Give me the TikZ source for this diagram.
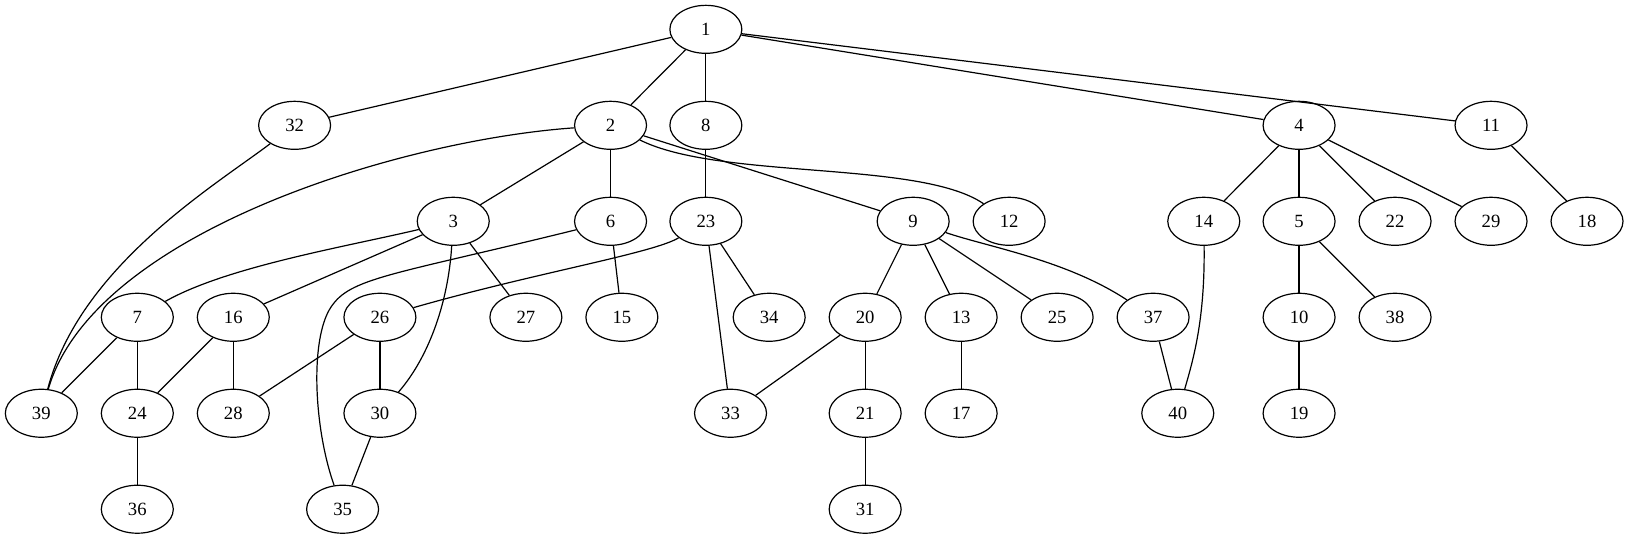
\documentclass[tikz,border=0pt]{standalone}
\usepackage{fontspec}
\setmainfont{Liberation Serif}
\usepackage{tikz}
\usetikzlibrary{shapes.geometric}

\begin{document}
\begin{tikzpicture}[x=1pt,y=-1pt,
		vertex/.style={draw,ellipse,line width=0.9pt,minimum width=54pt,minimum height=36pt,inner sep=0pt,font=\fontsize{14}{16}\selectfont},
		every path/.style={line width=0.9pt}]
		\useasboundingbox (0,0) rectangle (1222,404);
		% nodes, row by row
		\foreach \n/\x/\y in {1/529.5/22,
				32/221/94, 2/458/94, 8/529.5/94, 4/974.5/94, 11/1118.5/94,
				3/340/166, 6/458/166, 23/529.5/166, 9/685/166, 12/757/166, 14/903/166, 5/974.5/166, 22/1046.5/166, 29/1118.5/166, 18/1190.5/166,
				7/103/238, 16/175/238, 26/285/238, 27/394.5/238, 15/466.5/238, 34/577/238, 20/649/238, 13/721/238, 25/793/238, 37/865/238, 10/974.5/238, 38/1046.5/238,
				39/31/310, 24/103/310, 28/175/310, 30/285/310, 33/548/310, 21/649/310, 17/721/310, 40/883.5/310, 19/974.5/310,
				36/103/382, 35/257/382, 31/649/382}
			\node[vertex] (n\n) at (\x,\y) {\n};
		
		% straight edges
		\foreach \a/\b in {1/32, 1/2, 1/8, 1/4, 1/11, 2/3, 2/6, 2/9, 8/23, 4/14, 4/5, 4/22, 4/29, 11/18,
				3/16, 3/27, 6/15, 23/33, 23/34, 9/20, 9/13, 9/25, 5/10, 5/38,
				7/39, 7/24, 16/24, 16/28, 26/28, 26/30, 20/33, 20/21, 13/17, 37/40, 10/19, 24/36, 30/35, 21/31}
			\draw (n\a) -- (n\b);
		
		% curved edges
		\draw (n2) .. controls (300,105) and (70,175) .. (n39);
		\draw (n32) .. controls (160,140) and (60,200) .. (n39);
		\draw (n2) .. controls (540,135) and (690,120) .. (n12);
		\draw (n3) .. controls (336,230) and (320,270) .. (n30);
		\draw (n3) .. controls (260,185) and (170,200) .. (n7);
		\draw (n6) .. controls (300,205) and (265,208) .. (250,228) .. controls (232,250) and (235,320) .. (n35);
		\draw (n23) .. controls (490,190) and (400,205) .. (n26);
		\draw (n9) .. controls (740,185) and (800,195) .. (n37);
		\draw (n14) .. controls (904,240) and (895,270) .. (n40);
	\end{tikzpicture}
\end{document}
